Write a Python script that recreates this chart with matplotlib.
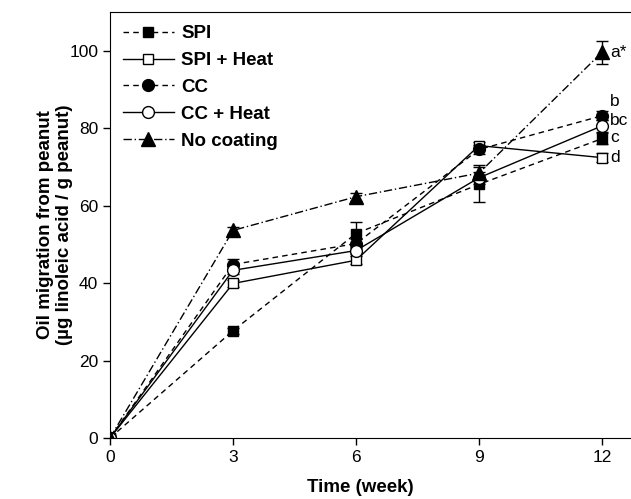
import matplotlib
matplotlib.use("Agg")
import matplotlib.pyplot as plt

plt.rcParams['font.family'] = ['Liberation Sans', 'DejaVu Sans']

weeks = [0, 3, 6, 9, 12]

spi = [0, 27.7, 52.8, 65.5, 77.3]
spi_heat = [0, 39.9, 45.9, 75.5, 72.4]
cc = [0, 44.8, 50.2, 74.5, 83.2]
cc_heat = [0, 43.3, 48.4, 67.2, 80.6]
no_coating = [0, 53.6, 62.3, 68.4, 99.6]

spi_err = [0, 0.8, 3.0, 4.5, 1.5]
spi_heat_err = [0, 1.0, 1.0, 1.0, 1.2]
cc_err = [0, 1.5, 1.2, 1.2, 1.2]
cc_heat_err = [0, 1.0, 1.0, 1.5, 1.5]
no_coating_err = [0, 0.8, 1.0, 2.0, 3.0]

letters = ['a*', 'b', 'bc', 'c', 'd']
letter_y = [99.6, 86.8, 81.9, 77.5, 72.5]

fig = plt.figure(figsize=(6.31, 4.99), dpi=100)
ax = fig.add_axes([110 / 631, 61 / 499, 533 / 631, 426 / 499])

series = [
    ('SPI', spi, spi_err, 's', 'black', (0, (4, 3)), 7.5),
    ('SPI + Heat', spi_heat, spi_heat_err, 's', 'white', '-', 7.5),
    ('CC', cc, cc_err, 'o', 'black', (0, (4, 3)), 8.5),
    ('CC + Heat', cc_heat, cc_heat_err, 'o', 'white', '-', 8.5),
    ('No coating', no_coating, no_coating_err, '^', 'black', (0, (6, 2, 1, 2)), 9.5),
]

for label, vals, err, mk, fc, ls, ms in series:
    ax.errorbar(weeks, vals, yerr=err, color='black', ecolor='black', elinewidth=1,
                capsize=4, capthick=1, linestyle=ls, linewidth=1, marker=mk,
                markersize=ms, markerfacecolor=fc, markeredgecolor='black',
                markeredgewidth=1, label=label)

# significance letters at week 12
for txt, y in zip(letters, letter_y):
    ax.text(12.2, y, txt, fontsize=12.5, va='center', ha='left')

ax.set_xlim(0, 13)
ax.set_ylim(0, 110)
ax.set_xticks([0, 3, 6, 9, 12])
ax.set_yticks([0, 20, 40, 60, 80, 100])
ax.tick_params(direction='out', length=5, width=1, labelsize=12.5)
ax.spines['right'].set_visible(False)

handles, labels = ax.get_legend_handles_labels()
handles = [h[0] for h in handles]
ax.legend(handles, labels, loc='upper left', bbox_to_anchor=(0.0, 1.0),
          frameon=False, handlelength=2.7, labelspacing=0.52,
          handletextpad=0.4, borderaxespad=0.3,
          prop={'weight': 'bold', 'size': 13.5})

fig.text(360 / 631, 1 - 488 / 499, 'Time (week)', ha='center', va='center',
         fontsize=13.5, fontweight='bold')
fig.text(55 / 631, (499 - 225) / 499, 'Oil migration from peanut\n(µg linoleic acid / g peanut)',
         ha='center', va='center', rotation=90, fontsize=13.5, fontweight='bold',
         linespacing=1.1)

fig.savefig('out.png', dpi=100)
